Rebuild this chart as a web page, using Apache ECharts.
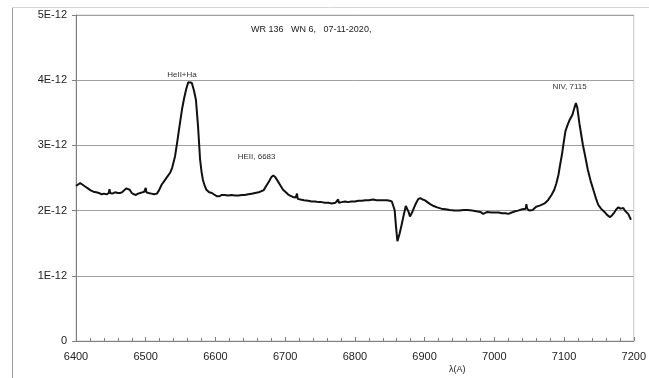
<!DOCTYPE html>
<html>
<head>
<meta charset="utf-8">
<script src="https://cdn.jsdelivr.net/npm/echarts@6/dist/echarts.min.js"></script>
<style>
html,body{margin:0;padding:0;background:#fff;}
#chart{width:649px;height:378px;}
</style>
</head>
<body>
<div id="chart"></div>
<script>
// wavelength in Angstrom
const wavelength = [6400,6403,6406,6409,6413,6417,6421,6425,6429,6433,6437,6440,6444,6447,6448,6449,6452,6456,6460,6463,6466,6469,6472,6474,6477,6480,6483,6486,6489,6492,6495,6498,6500,6501,6504,6508,6512,6516,6519,6523,6527,6531,6535,6538,6542,6545,6548,6552,6555,6558,6561,6563,6566,6569,6572,6575,6578,6580,6582,6585,6587,6591,6595,6599,6602,6604,6606,6609,6613,6618,6623,6628,6633,6638,6642,6647,6652,6657,6662,6666,6669,6673,6677,6680,6683,6686,6689,6693,6697,6701,6704,6707,6711,6715,6717,6718,6722,6727,6733,6738,6743,6748,6752,6757,6762,6767,6772,6776,6777,6781,6786,6790,6795,6800,6805,6810,6815,6820,6826,6831,6836,6841,6846,6850,6853,6855,6857,6859,6861,6864,6867,6870,6873,6875,6877,6879,6882,6885,6888,6891,6894,6897,6900,6904,6908,6913,6918,6924,6930,6936,6943,6950,6956,6962,6968,6974,6980,6984,6986,6990,6996,7001,7006,7011,7016,7020,7025,7030,7034,7040,7045,7046,7047,7050,7052,7055,7060,7066,7072,7077,7082,7086,7089,7092,7094,7097,7099,7102,7105,7108,7112,7115,7117,7119,7122,7125,7127,7131,7134,7138,7142,7146,7149,7153,7158,7162,7166,7169,7172,7175,7178,7181,7185,7188,7192,7196];
// flux in units of 1E-12
const fluxE12 = [2.38,2.40,2.42,2.40,2.37,2.34,2.31,2.29,2.28,2.27,2.25,2.26,2.25,2.27,2.33,2.27,2.26,2.28,2.27,2.27,2.28,2.31,2.34,2.35,2.32,2.27,2.25,2.24,2.26,2.27,2.28,2.29,2.35,2.28,2.27,2.26,2.25,2.26,2.31,2.40,2.46,2.52,2.58,2.66,2.83,3.04,3.26,3.55,3.72,3.86,3.97,3.99,3.96,3.85,3.70,3.30,2.78,2.60,2.47,2.37,2.32,2.28,2.27,2.24,2.22,2.19,2.22,2.24,2.24,2.23,2.24,2.23,2.23,2.24,2.24,2.25,2.26,2.27,2.28,2.30,2.31,2.38,2.45,2.51,2.54,2.51,2.46,2.39,2.32,2.28,2.25,2.23,2.21,2.20,2.26,2.18,2.17,2.16,2.15,2.14,2.14,2.13,2.13,2.12,2.12,2.11,2.12,2.17,2.12,2.13,2.14,2.13,2.14,2.14,2.15,2.15,2.16,2.16,2.17,2.16,2.16,2.16,2.16,2.15,2.14,2.12,2.01,1.75,1.53,1.64,1.78,1.93,2.07,2.08,1.98,1.91,1.97,2.05,2.12,2.18,2.19,2.17,2.16,2.13,2.10,2.07,2.05,2.03,2.02,2.01,2.00,2.00,2.01,2.01,2.00,1.99,1.98,1.95,1.97,1.98,1.97,1.97,1.97,1.96,1.96,1.95,1.97,1.99,2.00,2.02,2.03,2.10,2.03,2.00,1.97,2.01,2.06,2.08,2.11,2.16,2.24,2.32,2.42,2.55,2.68,2.86,3.01,3.22,3.31,3.39,3.47,3.58,3.65,3.58,3.34,3.14,3.01,2.80,2.63,2.46,2.32,2.18,2.09,2.03,1.98,1.93,1.90,1.93,1.97,2.02,2.05,2.03,2.04,1.99,1.95,1.86];

const xTicks = [6400,6500,6600,6700,6800,6900,7000,7100,7200];
const yTickLabels = ['0','1E-12','2E-12','3E-12','4E-12','5E-12'];

const titleText = 'WR 136   WN 6,   07-11-2020,';
const xAxisName = 'λ(A)';
const annotationText = ['HeII+Ha','HEII, 6683','NIV, 7115'];
const annotationX = [6552, 6659, 7108];
const annotationY = [4.09, 2.83, 3.90];

const chart = echarts.init(document.getElementById('chart'), null, {renderer:'canvas'});
const seriesData = wavelength.map((w,i)=>[w, fluxE12[i]]);

chart.setOption({
  animation:false,
  backgroundColor:'#fff',
  title:[
    {text:titleText, left:246, top:20, textStyle:{fontFamily:'Liberation Sans', fontSize:9, fontWeight:'normal', color:'#222'}},
    {text:xAxisName, left:444, top:360, textStyle:{fontFamily:'Liberation Sans', fontSize:9, fontWeight:'normal', color:'#222'}}
  ],
  graphic:[
    {type:'line', shape:{x1:12.5,y1:7,x2:12.5,y2:378}, style:{stroke:'#9a9a9a', lineWidth:1}},
    {type:'line', shape:{x1:12,y1:7.5,x2:649,y2:7.5}, style:{stroke:'#d6d6d6', lineWidth:1}}
  ],
  grid:{left:76, right:15, top:15, bottom:37, show:true, borderColor:'#c8c8c8', borderWidth:1},
  xAxis:{
    type:'value', min:6400, max:7200, interval:100,
    axisLine:{show:true, lineStyle:{color:'#808080', width:1}},
    axisTick:{show:true, inside:true, length:4, lineStyle:{color:'#808080'}},
    minorTick:{show:true, splitNumber:5, length:3, lineStyle:{color:'#808080'}},
    splitLine:{show:false},
    axisLabel:{margin:10, fontFamily:'Liberation Sans', fontSize:11, color:'#222',
      formatter:(v)=> xTicks.includes(v) ? String(v) : ''}
  },
  yAxis:{
    type:'value', min:0, max:5, interval:1,
    axisLine:{show:true, lineStyle:{color:'#808080', width:1}},
    axisTick:{show:true, inside:false, length:4, lineStyle:{color:'#808080'}},
    splitLine:{show:true, lineStyle:{color:'#a0a0a0', width:1}},
    axisLabel:{margin:9, fontFamily:'Liberation Sans', fontSize:11, color:'#222',
      formatter:(v)=> yTickLabels[Math.round(v)]}
  },
  series:[{
    type:'line',
    data:seriesData,
    showSymbol:false,
    symbol:'none',
    lineStyle:{color:'#111', width:2},
    markPoint:{
      symbol:'circle', symbolSize:0, silent:true,
      label:{show:true, position:'inside', fontFamily:'Liberation Sans', fontSize:8, color:'#333',
        formatter:(p)=>p.name},
      data: annotationText.map((t,i)=>({name:t, coord:[annotationX[i], annotationY[i]]}))
    }
  }]
});
</script>
</body>
</html>
